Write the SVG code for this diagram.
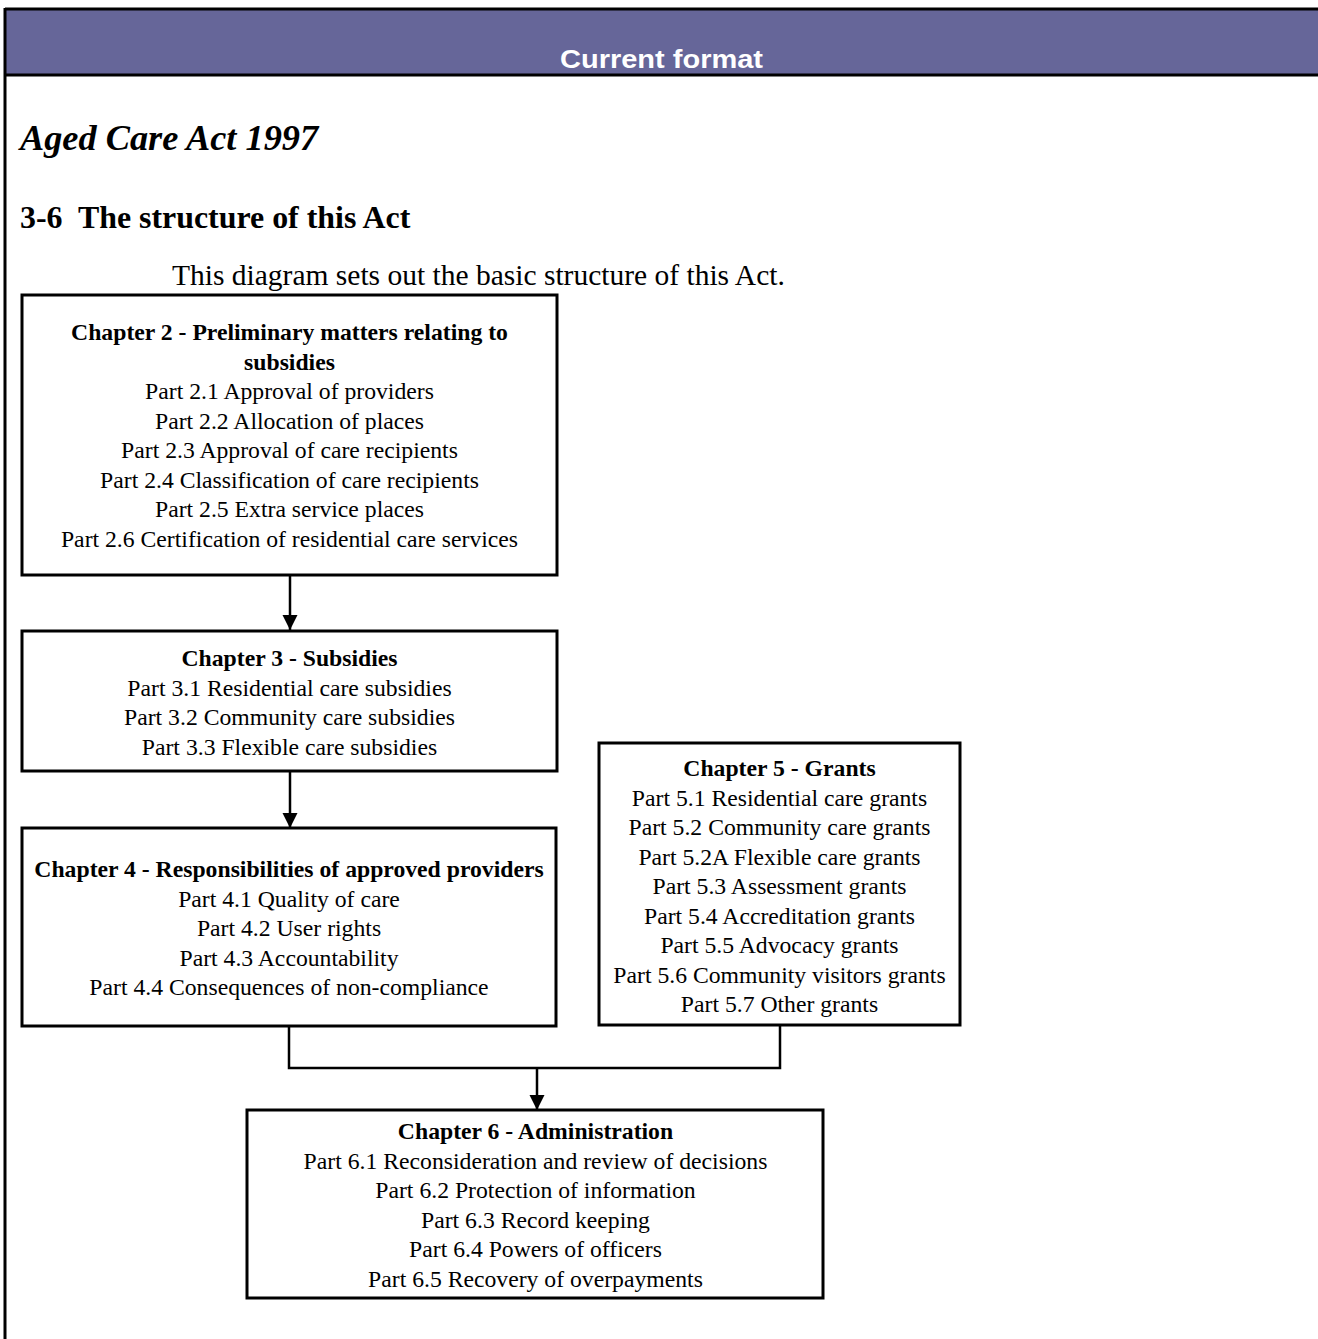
<svg xmlns="http://www.w3.org/2000/svg" width="1318" height="1339" viewBox="0 0 1318 1339">
<style>
.box{fill:#fff;stroke:#000;stroke-width:3}
.h{font-family:"Liberation Serif","Times New Roman",serif;font-weight:bold;font-size:23.7px;text-anchor:middle;fill:#000}
.p{font-family:"Liberation Serif","Times New Roman",serif;font-size:23.7px;text-anchor:middle;fill:#000}
.con{fill:none;stroke:#000;stroke-width:2.5}
</style>
<defs>
<marker id="arr" markerUnits="userSpaceOnUse" markerWidth="16" markerHeight="16" refX="15" refY="7.5" orient="auto">
<path d="M0,0 L15,7.5 L0,15 Z" fill="#000"/>
</marker>
</defs>
<rect x="0" y="0" width="1318" height="1339" fill="#fff"/>
<g id="header">
<rect x="5" y="9" width="1313" height="66" fill="#666699"/>
<line x1="5" y1="9" x2="1318" y2="9" stroke="#000" stroke-width="3"/>
<line x1="5" y1="75" x2="1318" y2="75" stroke="#000" stroke-width="3"/>
<line x1="5" y1="8" x2="5" y2="1339" stroke="#000" stroke-width="3"/>
<text x="661.5" y="68" font-family="'Liberation Sans',Arial,sans-serif" font-weight="bold" font-size="26" fill="#fff" text-anchor="middle" textLength="203" lengthAdjust="spacingAndGlyphs">Current format</text>
</g>
<g id="titles" font-family="'Liberation Serif','Times New Roman',serif" fill="#000">
<text x="20" y="150" font-size="36.3" font-weight="bold" font-style="italic">Aged Care Act 1997</text>
<text x="20" y="228" font-size="31.9" font-weight="bold" xml:space="preserve">3-6  The structure of this Act</text>
<text x="172" y="285" font-size="29.5">This diagram sets out the basic structure of this Act.</text>
</g>
<g id="connectors">
<line class="con" x1="290" y1="576" x2="290" y2="630" marker-end="url(#arr)"/>
<line class="con" x1="290" y1="772" x2="290" y2="828" marker-end="url(#arr)"/>
<polyline class="con" points="289,1027 289,1068 780,1068 780,1026"/>
<line class="con" x1="537" y1="1068" x2="537" y2="1110" marker-end="url(#arr)"/>
</g>
<g id="ch2">
<rect class="box" x="22" y="295" width="535" height="280"/>
<text class="h" x="289.5" y="340">Chapter 2 - Preliminary matters relating to</text>
<text class="h" x="289.5" y="369.5">subsidies</text>
<text class="p" x="289.5" y="399">Part 2.1 Approval of providers</text>
<text class="p" x="289.5" y="428.5">Part 2.2 Allocation of places</text>
<text class="p" x="289.5" y="458">Part 2.3 Approval of care recipients</text>
<text class="p" x="289.5" y="487.5">Part 2.4 Classification of care recipients</text>
<text class="p" x="289.5" y="517">Part 2.5 Extra service places</text>
<text class="p" x="289.5" y="546.5">Part 2.6 Certification of residential care services</text>
</g>
<g id="ch3">
<rect class="box" x="22" y="631" width="535" height="140"/>
<text class="h" x="289.5" y="666">Chapter 3 - Subsidies</text>
<text class="p" x="289.5" y="695.5">Part 3.1 Residential care subsidies</text>
<text class="p" x="289.5" y="725">Part 3.2 Community care subsidies</text>
<text class="p" x="289.5" y="754.5">Part 3.3 Flexible care subsidies</text>
</g>
<g id="ch4">
<rect class="box" x="22" y="828" width="534" height="198"/>
<text class="h" x="289" y="877">Chapter 4 - Responsibilities of approved providers</text>
<text class="p" x="289" y="906.5">Part 4.1 Quality of care</text>
<text class="p" x="289" y="936">Part 4.2 User rights</text>
<text class="p" x="289" y="965.5">Part 4.3 Accountability</text>
<text class="p" x="289" y="995">Part 4.4 Consequences of non-compliance</text>
</g>
<g id="ch5">
<rect class="box" x="599" y="743" width="361" height="282"/>
<text class="h" x="779.5" y="776">Chapter 5 - Grants</text>
<text class="p" x="779.5" y="805.5">Part 5.1 Residential care grants</text>
<text class="p" x="779.5" y="835">Part 5.2 Community care grants</text>
<text class="p" x="779.5" y="864.5">Part 5.2A Flexible care grants</text>
<text class="p" x="779.5" y="894">Part 5.3 Assessment grants</text>
<text class="p" x="779.5" y="923.5">Part 5.4 Accreditation grants</text>
<text class="p" x="779.5" y="953">Part 5.5 Advocacy grants</text>
<text class="p" x="779.5" y="982.5">Part 5.6 Community visitors grants</text>
<text class="p" x="779.5" y="1012">Part 5.7 Other grants</text>
</g>
<g id="ch6">
<rect class="box" x="247" y="1110" width="576" height="188"/>
<text class="h" x="535.5" y="1139">Chapter 6 - Administration</text>
<text class="p" x="535.5" y="1168.5">Part 6.1 Reconsideration and review of decisions</text>
<text class="p" x="535.5" y="1198">Part 6.2 Protection of information</text>
<text class="p" x="535.5" y="1227.5">Part 6.3 Record keeping</text>
<text class="p" x="535.5" y="1257">Part 6.4 Powers of officers</text>
<text class="p" x="535.5" y="1286.5">Part 6.5 Recovery of overpayments</text>
</g>
</svg>
